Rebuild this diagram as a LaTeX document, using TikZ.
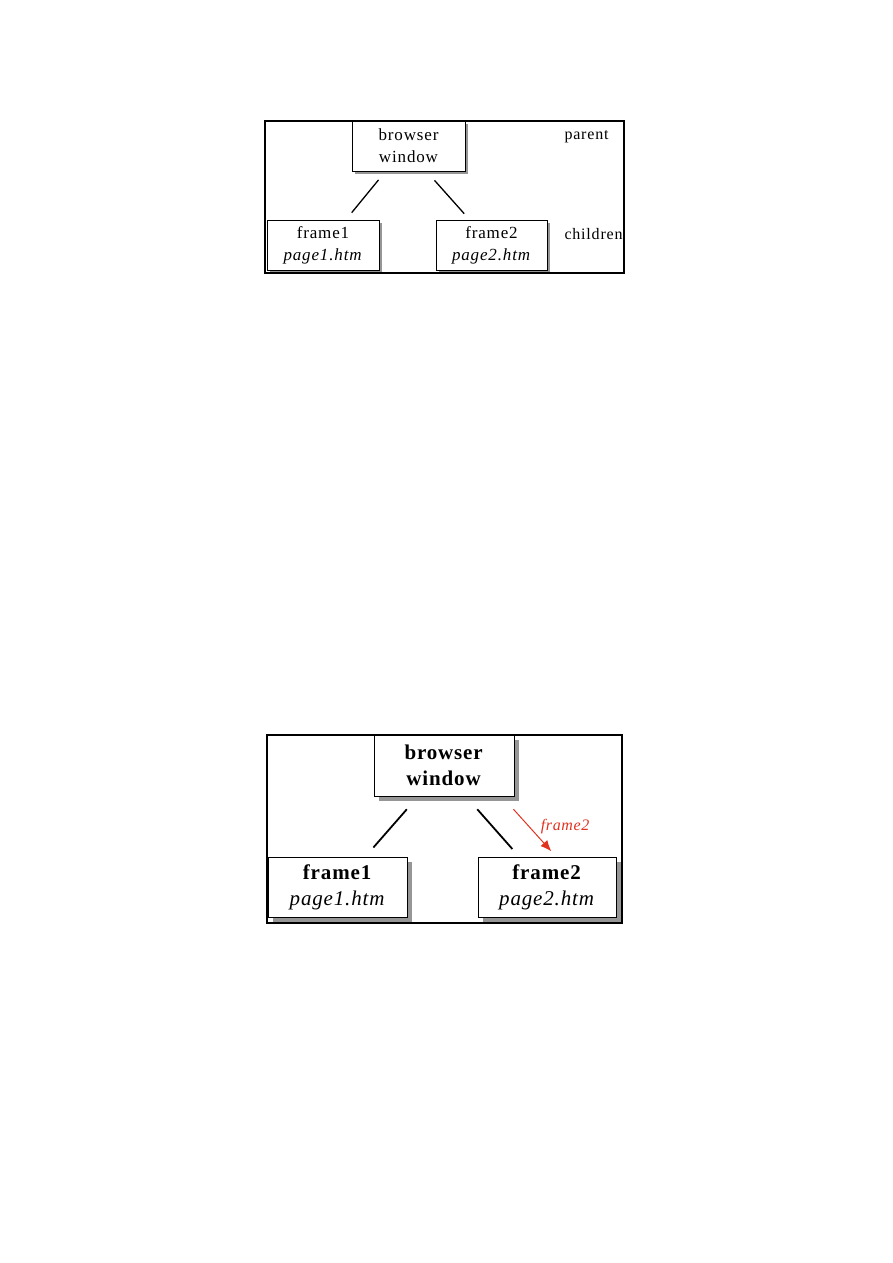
\documentclass[tikz,border=0pt]{standalone}
\usepackage{fontspec}
\setmainfont{Liberation Serif}
\newfontfamily\smallfam[LetterSpace=5]{Liberation Serif}
\newfontfamily\bigfam[LetterSpace=4]{Liberation Serif}
\usetikzlibrary{
  arrows.meta,
  positioning,
  shadows
}
\definecolor{fsred}{HTML}{E2311D}
\definecolor{fsshadow}{HTML}{969696}

\begin{document}
\begin{tikzpicture}[
      x=1pt, y=-1pt,
      box/.style={
        rectangle, draw, fill=white, inner sep=0pt, align=center
      },
      smallbox/.style={
        box, line width=0.8pt,
        minimum width=112pt, minimum height=50pt,
        font=\smallfam\fontsize{17}{22}\selectfont,
        drop shadow={shadow xshift=3pt, shadow yshift=-3pt, fill=fsshadow, opacity=1}
      },
      bigbox/.style={
        box, line width=1pt,
        minimum width=139pt, minimum height=60pt,
        font=\bigfam\fontsize{21}{26}\selectfont,
        drop shadow={shadow xshift=4.5pt, shadow yshift=-4.5pt, fill=fsshadow, opacity=1}
      },
      lbl/.style={font=\smallfam\fontsize{16}{20}\selectfont, anchor=west},
      link/.style={line width=1.3pt},
      biglink/.style={line width=1.8pt},
      redarrow/.style={-{Latex[length=11pt, width=9pt]}, line width=1pt, fsred}
    ]
      \useasboundingbox (0,0) rectangle (893,1263);

      % Upper diagram: windows
      \node[smallbox, minimum width=113pt] (bw1) at (408.5,146) {browser\\window};
      \node[smallbox] (f1) at (323,245) {frame1\\\textit{page1.htm}};
      \node[smallbox, minimum width=111pt] (f2) at (491.5,245) {frame2\\\textit{page2.htm}};

      % Upper diagram: labels
      \node[lbl] (parent) at (561,137) {parent};
      \node[lbl] (children) at (561,234) {children};

      % Upper diagram: links
      \draw[link, shorten <=11pt, shorten >=9pt] ([xshift=-23pt]bw1.south) -- ([xshift=23pt]f1.north);
      \draw[link, shorten <=12pt, shorten >=8pt] ([xshift=18pt]bw1.south) -- ([xshift=-22pt]f2.north);

      % Upper diagram: frame
      \draw[line width=1.5pt] (265,121) rectangle (624,273);

      % Lower diagram: windows
      \node[bigbox, minimum width=140pt, minimum height=61pt] (bw2) at (444,765.5) {\textbf{browser}\\\textbf{window}};
      \node[bigbox] (f3) at (337.5,887) {\textbf{frame1}\\\textit{page1.htm}};
      \node[bigbox, minimum width=138pt] (f4) at (547,887) {\textbf{frame2}\\\textit{page2.htm}};

      % Lower diagram: links
      \draw[biglink, shorten <=17pt, shorten >=12pt] ([xshift=-26pt]bw2.south) -- ([xshift=28pt]f3.north);
      \draw[biglink, shorten <=17pt, shorten >=10pt] ([xshift=22pt]bw2.south) -- ([xshift=-28pt]f4.north);
      \draw[redarrow, shorten <=17pt, shorten >=7pt] ([xshift=58pt]bw2.south) --
        node[midway, right=8pt, font=\bigfam\fontsize{16}{20}\selectfont\itshape, text=fsred] {frame2}
        ([xshift=9pt]f4.north);

      % Lower diagram: frame
      \draw[line width=1.5pt] (267,735) rectangle (622,923);
    \end{tikzpicture}
\end{document}
